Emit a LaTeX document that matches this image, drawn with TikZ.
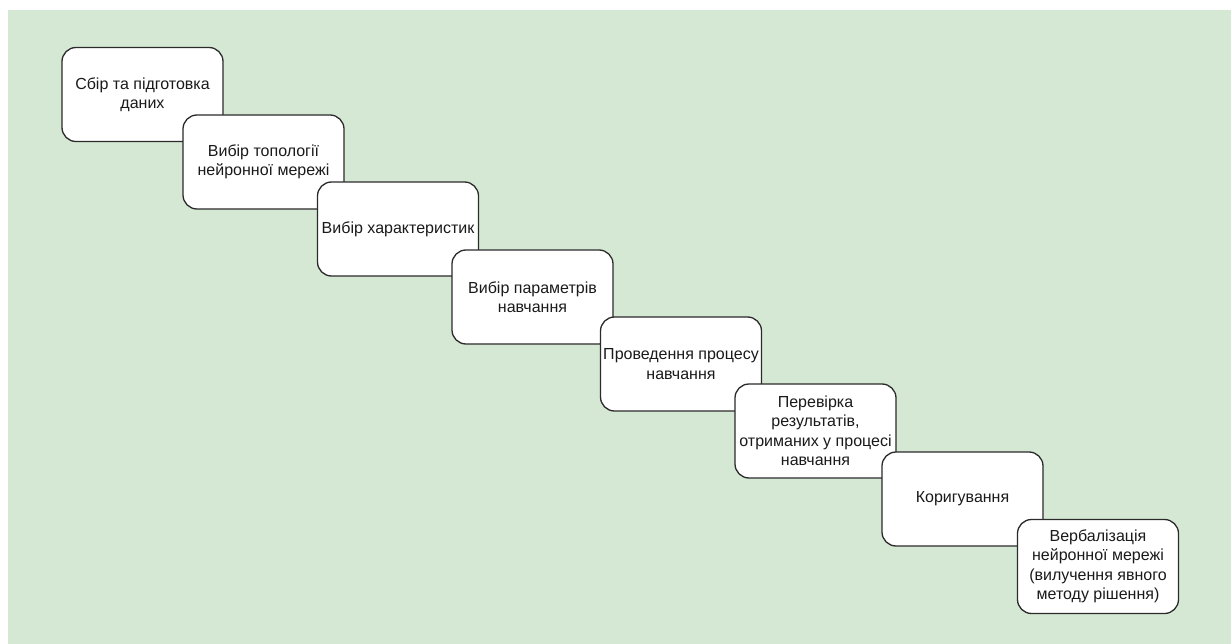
\documentclass[tikz,border=0pt]{standalone}
\usepackage{fontspec}
\setmainfont{Liberation Sans}
\definecolor{bggreen}{HTML}{D5E8D4}
\definecolor{edge}{HTML}{2B2B2B}
\definecolor{ink}{HTML}{1A1A1A}
\begin{document}
\begin{tikzpicture}[x=1pt,y=-1pt,
  stage/.style={draw=edge, line width=1.3pt, fill=white, rounded corners=14pt,
    minimum width=161pt, minimum height=94pt, inner sep=0pt, align=center,
    text=ink, font=\fontsize{16}{19.5}\selectfont}]
  \useasboundingbox (0,0) rectangle (1231,644);
  \fill[bggreen] (8,10) rectangle (1231,644);

  \node[stage] (s1) at (142.5,94.5)  {Сбір та підготовка\\даних};
  \node[stage] (s2) at (263.5,162)   {Вибір топології\\нейронної мережі};
  \node[stage] (s3) at (398,229)     {Вибір характеристик};
  \node[stage] (s4) at (532.5,297)   {Вибір параметрів\\навчання};
  \node[stage] (s5) at (681,364)     {Проведення процесу\\навчання};
  \node[stage] (s6) at (815.5,431)   {Перевірка\\результатів,\\отриманих у процесі\\навчання};
  \node[stage] (s7) at (962.5,499)   {Коригування};
  \node[stage] (s8) at (1098,566.5)  {Вербалізація\\нейронної мережі\\(вилучення явного\\методу рішення)};
\end{tikzpicture}
\end{document}
